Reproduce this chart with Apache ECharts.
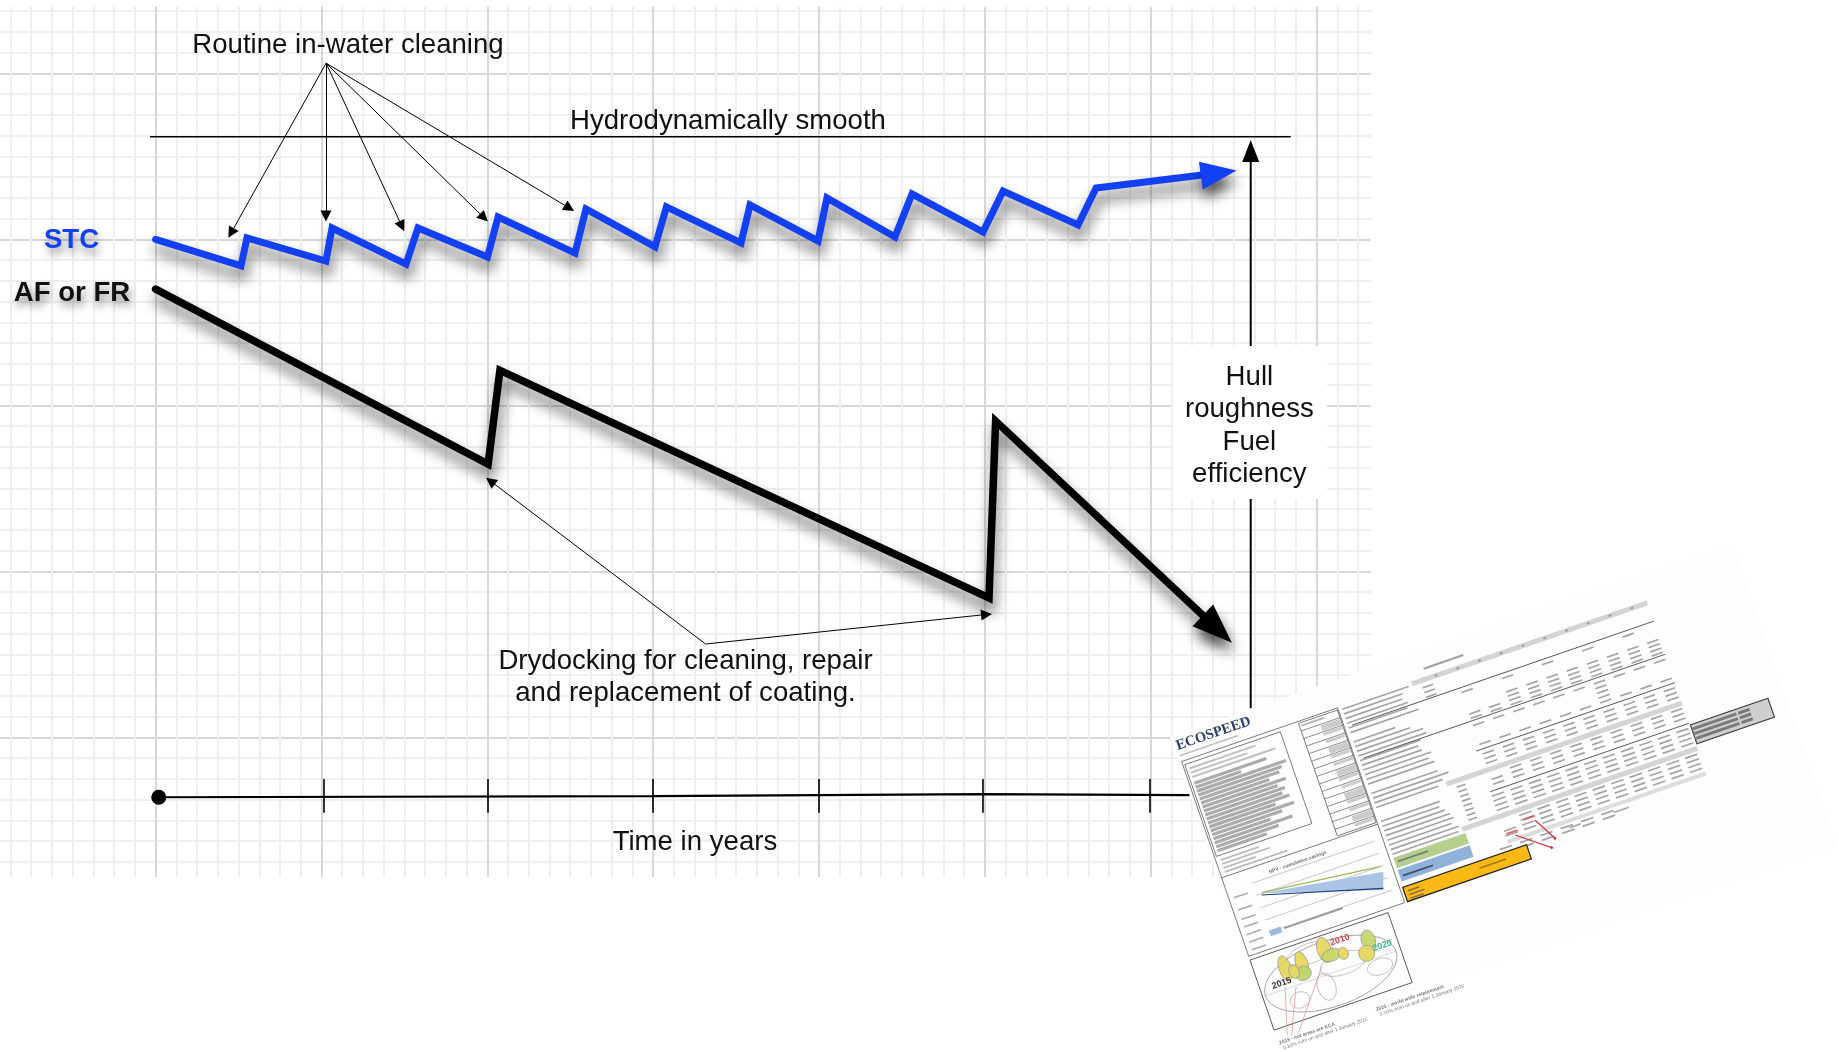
<!DOCTYPE html>
<html><head><meta charset="utf-8">
<style>html,body{margin:0;padding:0;background:#fff;overflow:hidden}#main{width:1839px;height:1052px}</style>
<script src="https://cdn.jsdelivr.net/npm/echarts@6/dist/echarts.min.js"></script>
</head><body><div id="main"></div>
<script>
// ---- chart data (x = years, y = hull smoothness in grid units) ----
const stcPoints = [[0,3.00],[0.515,2.84],[0.551,3.008],[1.027,2.869],[1.064,3.068],[1.51,2.851],[1.582,3.068],[2.001,2.893],[2.065,3.134],[2.529,2.917],[2.595,3.183],[3.011,2.954],[3.08,3.195],[3.53,2.978],[3.584,3.207],[3.994,2.99],[4.048,3.249],[4.458,3.014],[4.561,3.273],[4.989,3.044],[5.11,3.291],[5.562,3.086],[5.671,3.309]];
const stcArrow = [6.41,3.399];
const afPoints = [[0,2.70],[2.005,1.646],[2.076,2.21],[5.025,0.84],[5.065,1.905]];
const afArrow = [6.402,0.652];
const smoothLine = [[-0.034,3.618],[6.845,3.618]];
const hullUpper = [[6.603,2.357]];
const hullArrow = [6.603,3.532];
const hullLower = [[6.603,1.436],[6.603,0.175]];
const timeLine = [[0.019,-0.361],[3.0,-0.354],[4.989,-0.342],[6.234,-0.348]];
const timeTicks = [1.014,2.003,3.0,4.0,4.989,5.995];
const tickSpan = [-0.251,-0.454];
const cleaningFrom = [1.028,4.061];
const cleaningTo = [[0.455,3.038],[1.027,3.14],[1.485,3.079],[1.98,3.13],[2.495,3.188]];
const drydockFrom = [3.316,0.562];
const drydockTo = [[2.019,1.544],[5.01,0.74]];
const labelTexts = ['Routine in-water cleaning','Hydrodynamically smooth','STC','AF or FR','Hull\nroughness\nFuel\nefficiency','Drydocking for cleaning, repair\nand replacement of coating.','Time in years'];
const labelPoints = [[1.16,4.171],[3.451,3.708],[-0.507,2.994],[-0.504,2.677],[6.595,1.876],[3.195,0.361],[3.252,-0.634]];

const FONT = '"Liberation Sans", Arial, sans-serif';
const BLUE = '#1340f5';

// ---- inset sheet (rotated thumbnail) ----
const C = Math.cos(19*Math.PI/180), S = Math.sin(19*Math.PI/180);
const toLocal = (px,py)=>{const dx=px-1170,dy=py-737;return [C*dx-S*dy,S*dx+C*dy];};
const z5 = (x,y)=>toLocal(1170+x/3,700+y/3);
const z6 = (x,y)=>toLocal(1380+x/3,580+y/3);
const kids = [];
const Z = 100;
const rect=(u,v,w,h,fill,op,stroke,lw)=>kids.push({type:'rect',z:Z,silent:true,shape:{x:u,y:v,width:w,height:h},style:{fill:fill||'none',opacity:op==null?1:op,stroke:stroke||null,lineWidth:lw||1}});
const line=(a,b,col,lw,op)=>kids.push({type:'line',z:Z,silent:true,shape:{x1:a[0],y1:a[1],x2:b[0],y2:b[1]},style:{stroke:col,lineWidth:lw||1,opacity:op==null?1:op}});
const poly=(pts,fill,op)=>kids.push({type:'polygon',z:Z,silent:true,shape:{points:pts},style:{fill,opacity:op==null?1:op}});
const ell=(c,rx,ry,fill,op,stroke)=>kids.push({type:'ellipse',z:Z,silent:true,shape:{cx:c[0],cy:c[1],rx,ry},style:{fill:fill||'none',opacity:op==null?1:op,stroke:stroke||null,lineWidth:0.8}});
const txt=(u,v,t,font,fill,align,op)=>kids.push({type:'text',z:Z,silent:true,style:{x:u,y:v,text:t,font,fill,textAlign:align||'left',textVerticalAlign:'middle',opacity:op==null?1:op}});
const G='#6f6f6f';
const block=(u0,vs,cols,du,w,skip)=>{for(let i=0;i<cols;i++)vs.forEach((v,k)=>{if(skip&&skip(i,k))return;rect(u0+i*du,v,w,1.7,G,0.62);});};

rect(0,0,595,320,'#fdfdfd');
// header
txt(3,11,'ECOSPEED','bold 14.5px "Liberation Serif", serif','#2c4163');
rect(3,20,62,1.6,'#999',0.6);
// left frame
line([3,27],[3,233],'#555',0.7);line([3,27],[168,27],'#555',0.7);line([168,27],[168,233],'#555',0.7);
line([3,233],[168,233],'#555',0.7);line([3,150],[168,150],'#555',0.7);
rect(5,31,101,97,null,1,'#555',0.7);
[[8,70],[8,60],[8,88]].forEach((r,i)=>rect(r[0],35+i*4.5,r[1],2,'#999',0.6));
const rowLens=[76,48,94,88,84,72,88,78,84,80,86,70,88,74,60,82,66,52];
rowLens.forEach((l,i)=>rect(8,50+i*4.2,l,3.2,'#8a8a8a',0.72));
[40,50,34,66].forEach((l,i)=>rect(8,132+i*4.2,l,1.7,'#888',0.6));
rect(126,29,41,119,null,1,'#555',0.7);
for(let i=0;i<14;i++){line([126,37+i*8],[167,37+i*8],'#555',0.6);rect(146,38+i*8,20,i%3==0?6:3,'#aaa',0.6);}
rect(128,31,24,2,'#888',0.6);
// parameter list
[70,62,60,64,62,72,0,44,58,70,72,64,60,62,70,66,70,0,70,80,72,66,0,0,62,60,64,68,70,66,72,70,70].forEach((l,i)=>{if(l)rect(172,29+i*4.95,l,1.7,G,0.62);});
// right table
rect(246,26,249,5,'#d4d4d4');
rect(262,17,42,2,'#777',0.7);
for(let i=0;i<10;i++)rect(270+i*23,27.5,3,2,'#777',0.6);
line([176,48],[495,48],'#444',0.8);
line([176,83],[495,83],'#444',0.8);
line([285,113],[495,113],'#444',0.8);
line([285,156],[495,156],'#444',0.8);
rect(246,132,249,5,'#d4d4d4');
rect(246,180,249,5,'#d4d4d4');
rect(285,207,210,4,'#dcdcdc');
block(255,[35,40,45],1,0,11);
block(290,[52,66,70.5,75,79.5],10,21.3,12,(i,k)=>k==0?i%2==1:i<2&&k<3);
block(290,[87,92,97,102,107],10,21.3,12,(i,k)=>!(k==0||k==4||i==6));
block(290,[117,122,127],10,21.3,12);
block(290,[139,144,149],10,21.3,12,(i,k)=>i==0&&k<1);
block(255,[140,145,150,155,160,165,170,175],1,0,9);
block(285,[160,165,170,175],11,19.5,13);
block(285,[187,192,197,202],11,19.5,13,(i,k)=>i==0&&k<2);
block(275,[213,218],9,21.5,13,(i,k)=>i>5);
rect(348,215,12,1.7,G,.6);rect(395,215,16,1.7,G,.6);
// dark summary box
rect(496,158,82,20,'#cfcfcf',1,'#444',1.2);
for(let i=0;i<3;i++){rect(497,161+i*5,46,3,'#6a6a6a',0.85);rect(545,161+i*5,12,3,'#6a6a6a',0.85);}
// coloured blocks
rect(172,187,76,11,'#b5d08e');
rect(172,200,76,12,'#90b2da');
rect(175,191,32,1.7,'#556',.7);rect(175,206,32,1.7,'#223',.7);
rect(171,218,131,15,'#fdb913',1,'#222',1.2);
rect(175,222,12,1.6,'#555',.7);rect(175,226,16,1.6,'#555',.7);rect(175,230,14,1.6,'#555',.7);
rect(250,224,28,1.6,'#8a6a10',.8);
// red notes
line(z6(405,765),z6(515,803),'#cf3a47',1.3);
line(z6(465,720),z6(525,775),'#cf3a47',1.3);
ell(z6(515,803),1.3,1.3,'#d22');ell(z6(525,775),1.3,1.3,'#d22');
rect(z6(380,765)[0],z6(380,765)[1]-2,12,1.8,'#d44',.8);rect(z6(432,722)[0],z6(432,722)[1]-2,12,1.8,'#d44',.8);
// NPV plot
txt(80,160,'NPV - cumulative savings','bold 5px '+FONT,'#444','center',0.75);
[165,178,191,204,217].forEach(v=>line([30,v],[160,v],'#aaa',0.6));
[172,185,195,203,211,219,227].forEach(v=>rect(8,v,15,1.6,'#777',.6));
poly([z5(275,580),z5(640,515),z5(640,570)],'#a9c4e4');
line(z5(275,578),z5(630,500),'#9bbb59',1.2);
line(z5(275,585),z5(640,565),'#1f3c78',1.2);
rect(z5(300,700)[0],z5(300,700)[1]-3,12,6,'#9db9dd');
rect(z5(300,700)[0]+15,z5(300,700)[1]-1,62,1.7,G,.7);
// map
rect(3,237,146,74,null,1,'#444',0.8);
ell([75,276],69,33,null,1,'#999');
line([6,276],[144,276],'#bbb',0.5);
[[z5(420,760),24,10],[z5(520,790),24,11],[z5(630,800),13,8],[z5(470,860),9,14],[z5(390,900),10,8]].forEach(b=>ell(b[0],b[1],b[2],null,.8,'#aaa'));
[[z5(345,805),6,13,'#e6d760'],[z5(395,790),6,12,'#e6d760'],[z5(400,820),8,7,'#bcd66c'],[z5(372,815),5,7,'#e6d760'],[z5(463,750),7,13,'#e6d760'],[z5(485,765),10,6,'#c8d86a'],[z5(520,760),5,6,'#e6d760'],[z5(595,720),7,10,'#c5d96a'],[z5(590,760),8,8,'#e6d760']].forEach(b=>ell(b[0],b[1],b[2],b[3],.95,'#999'));
txt(z5(335,850)[0],z5(335,850)[1],'2015','bold 9px '+FONT,'#333','center');
txt(z5(510,720)[0],z5(510,720)[1],'2010','bold 9px '+FONT,'#c8474b','center');
txt(z5(637,737)[0],z5(637,737)[1],'2020','bold 9px '+FONT,'#35b48c','center');
[[345,860,352,1005],[378,860,365,1005],[455,800,385,1000]].forEach(l=>line(z5(l[0],l[1]),z5(l[2],l[3]),'#d99',0.7));
// footnotes
const f1=z5(330,1035),f2=z5(620,935);
txt(f1[0],f1[1]-2,'2015 - not areas are ECA','bold 5px '+FONT,'#555','left',.8);
txt(f1[0]+2,f1[1]+4,'0.10% m/m on and after 1 January 2015','5px '+FONT,'#555','left',.8);
txt(f2[0],f2[1]-2,'2020 - world wide requirement','bold 5px '+FONT,'#555','left',.8);
txt(f2[0]+2,f2[1]+4,'0.50% m/m on and after 1 January 2020','5px '+FONT,'#555','left',.8);

const shadow = {shadowColor:'rgba(0,0,0,0.6)',shadowBlur:14,shadowOffsetX:2,shadowOffsetY:10};
const arrowPair = (from,to)=>to.map(t=>[{coord:from},{coord:t}]);
const thinLine = (name,data,w)=>({type:'line',name,data,symbol:'none',silent:true,animation:false,z:3,lineStyle:{color:'#000',width:w||1.8}});

const minorLine = {show:true,lineStyle:{color:'#efefef',width:2}};
const majorLine = {show:true,lineStyle:{color:'#d8d8d8',width:2}};
const option = {
  animation:false,
  backgroundColor:'#fff',
  grid:{left:-10.25,top:-92.7,width:1492.65,height:996,containLabel:false,outerBoundsMode:'none'},
  xAxis:{type:'value',min:-1,max:8,interval:1,axisLine:{show:false},axisTick:{show:false},axisLabel:{show:false},
    splitLine:majorLine,minorTick:{show:false,splitNumber:8},minorSplitLine:minorLine},
  yAxis:{type:'value',min:-1,max:5,interval:1,axisLine:{show:false},axisTick:{show:false},axisLabel:{show:false},
    splitLine:majorLine,minorTick:{show:false,splitNumber:8},minorSplitLine:minorLine},
  graphic:{elements:[
    {type:'rect',z:1,silent:true,shape:{x:0,y:0,width:1839,height:6.5},style:{fill:'#fff'}},
    {type:'rect',z:1,silent:true,shape:{x:0,y:877,width:1839,height:175},style:{fill:'#fff'}},
    {type:'rect',z:1,silent:true,shape:{x:1371,y:0,width:468,height:1052},style:{fill:'#fff'}},
    {type:'rect',z:1,silent:true,shape:{x:1173,y:346,width:154,height:153},style:{fill:'#fff'}},
    {type:'group',x:1170,y:737,rotation:19*Math.PI/180,children:kids}
  ]},
  series:[
    thinLine('Hydrodynamically smooth',smoothLine,1.4),
    Object.assign(thinLine('Hull up',hullUpper.concat([{value:hullArrow,symbol:'triangle',symbolSize:[17,22],itemStyle:{color:'#000'}}]),2),{showSymbol:true,showAllSymbol:true}),
    thinLine('Hull down',hullLower,2),
    {type:'line',name:'Time',data:timeLine.map((p,i)=>i==0?{value:p,symbol:'circle',symbolSize:15,itemStyle:{color:'#000'}}:p),symbol:'none',showSymbol:true,showAllSymbol:true,silent:true,animation:false,z:3,
      lineStyle:{color:'#000',width:2.2},
      markLine:{silent:true,animation:false,symbol:'none',label:{show:false},lineStyle:{color:'#000',width:1.6,type:'solid'},
        data:timeTicks.map(x=>[{coord:[x,tickSpan[0]]},{coord:[x,tickSpan[1]]}])}},
    {type:'line',name:'Cleaning arrows',data:[],silent:true,animation:false,z:3,
      markLine:{silent:true,animation:false,symbol:['none','triangle'],symbolSize:11,label:{show:false},lineStyle:{color:'#000',width:1,type:'solid'},
        data:arrowPair(cleaningFrom,cleaningTo).concat(arrowPair(drydockFrom,drydockTo))}},
    {type:'line',name:'AF or FR',data:afPoints.concat([{value:afArrow,symbol:'triangle',symbolSize:[30,40],symbolRotate:-133.4,itemStyle:Object.assign({color:'#000'},shadow)}]),symbol:'none',showSymbol:true,showAllSymbol:true,silent:true,animation:false,z:4,
      lineStyle:Object.assign({color:'#000',width:7.5,cap:'round',join:'miter',miterLimit:10},shadow)},
    {type:'line',name:'STC',data:stcPoints.concat([{value:stcArrow,symbol:'triangle',symbolSize:[28,36],symbolRotate:-82,itemStyle:Object.assign({color:BLUE},shadow)}]),symbol:'none',showSymbol:true,showAllSymbol:true,silent:true,animation:false,z:5,
      lineStyle:Object.assign({color:BLUE,width:7,cap:'round',join:'miter',miterLimit:10},shadow)},
    {type:'scatter',name:'Annotations',silent:true,animation:false,z:6,symbolSize:1,itemStyle:{color:'rgba(0,0,0,0)',opacity:1},
      data:labelPoints.map((p,i)=>{
        const bold = labelTexts[i]==='STC'||labelTexts[i]==='AF or FR';
        return {value:p,label:{show:true,position:'inside',formatter:labelTexts[i],fontFamily:FONT,fontSize:27.6,lineHeight:32.5,
          fontWeight:bold?'bold':'normal',color:labelTexts[i]==='STC'?BLUE:'#111',align:'center',verticalAlign:'middle',
          textShadowColor:bold?'rgba(0,0,0,0.45)':'transparent',textShadowBlur:bold?8:0,textShadowOffsetX:bold?2:0,textShadowOffsetY:bold?6:0}};
      })}
  ]
};
echarts.init(document.getElementById('main')).setOption(option);
</script></body></html>
